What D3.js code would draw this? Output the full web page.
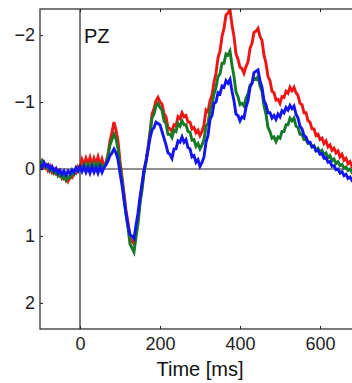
<!DOCTYPE html>
<html>
<head>
<meta charset="utf-8">
<script src="https://cdn.jsdelivr.net/npm/d3@7"></script>
<style>
  body { margin: 0; background: #fff; }
  svg { display: block; font-family: "Liberation Sans", Arial, Helvetica, sans-serif; }
  .axis text { font-size: 18px; fill: #222; }
</style>
</head>
<body>
<svg id="chart" width="352" height="383"></svg>
<script>
// ERP at electrode PZ, three conditions, samples every 5 ms from -100 to 700 ms
var times = d3.range(-100, 701, 5);

var redVals = [
  -0.08, -0.12, -0.03, -0.06, 0.02, -0.04, 0.05, 0.01, 0.07, 0.03,
  0.10, 0.06, 0.14, 0.10, 0.18, 0.12, 0.13, 0.04, 0.06, -0.04,
  -0.02, -0.14, -0.06, -0.16, -0.08, -0.17, -0.06, -0.16, -0.08, -0.18,
  -0.06, -0.15, -0.04, -0.10, -0.22, -0.42, -0.55, -0.70, -0.58, -0.42,
  -0.12, 0.12, 0.36, 0.62, 0.80, 1.02, 1.08, 1.12, 0.93, 0.76,
  0.48, 0.26, 0.03, -0.12, -0.32, -0.55, -0.82, -0.90, -1.02, -1.07,
  -1.00, -0.97, -0.83, -0.78, -0.62, -0.60, -0.56, -0.66, -0.64, -0.78,
  -0.75, -0.84, -0.78, -0.80, -0.70, -0.70, -0.60, -0.62, -0.54, -0.58,
  -0.50, -0.56, -0.66, -0.88, -0.85, -1.02, -1.10, -1.30, -1.43, -1.66,
  -1.76, -1.98, -2.10, -2.30, -2.33, -2.38, -2.15, -1.98, -1.72, -1.64,
  -1.52, -1.50, -1.43, -1.53, -1.60, -1.80, -1.88, -2.04, -2.06, -2.10,
  -1.98, -1.92, -1.70, -1.58, -1.38, -1.32, -1.16, -1.14, -1.03, -1.04,
  -0.98, -1.08, -1.07, -1.16, -1.13, -1.22, -1.17, -1.22, -1.14, -1.10,
  -0.98, -0.96, -0.84, -0.84, -0.72, -0.70, -0.60, -0.60, -0.50, -0.52,
  -0.44, -0.46, -0.38, -0.42, -0.33, -0.36, -0.28, -0.31, -0.24, -0.27,
  -0.18, -0.22, -0.13, -0.16, -0.08, -0.11, -0.04, -0.06, 0.01, -0.01,
  0.05
];

var greenVals = [
  -0.04, -0.12, -0.08, -0.02, -0.06, 0.03, -0.01, 0.06, 0.02, 0.10,
  0.06, 0.14, 0.10, 0.17, 0.11, 0.13, 0.05, 0.08, 0.00, 0.03,
  -0.04, 0.00, -0.07, -0.01, -0.08, -0.02, -0.08, -0.02, -0.09, -0.03,
  -0.08, -0.02, -0.06, -0.08, -0.20, -0.36, -0.44, -0.52, -0.45, -0.30,
  -0.04, 0.16, 0.42, 0.68, 0.88, 1.12, 1.18, 1.24, 1.02, 0.82,
  0.52, 0.32, 0.06, -0.10, -0.30, -0.52, -0.76, -0.82, -0.94, -0.98,
  -0.92, -0.88, -0.72, -0.68, -0.52, -0.52, -0.47, -0.58, -0.56, -0.68,
  -0.64, -0.72, -0.66, -0.66, -0.56, -0.55, -0.43, -0.44, -0.34, -0.38,
  -0.30, -0.36, -0.44, -0.64, -0.68, -0.88, -0.96, -1.12, -1.22, -1.38,
  -1.42, -1.58, -1.58, -1.72, -1.70, -1.76, -1.55, -1.38, -1.15, -1.08,
  -0.96, -0.98, -0.94, -1.06, -1.12, -1.25, -1.28, -1.36, -1.34, -1.38,
  -1.24, -1.16, -0.94, -0.82, -0.62, -0.56, -0.46, -0.48, -0.41, -0.48,
  -0.46, -0.56, -0.56, -0.66, -0.66, -0.76, -0.72, -0.76, -0.64, -0.62,
  -0.52, -0.52, -0.44, -0.44, -0.38, -0.39, -0.33, -0.35, -0.28, -0.31,
  -0.25, -0.28, -0.21, -0.24, -0.17, -0.20, -0.12, -0.15, -0.08, -0.11,
  -0.05, -0.07, -0.01, -0.03, 0.02, 0.00, 0.05, 0.03, 0.08, 0.06,
  0.11
];

var blueVals = [
  -0.06, -0.02, -0.10, -0.04, -0.06, 0.00, -0.04, 0.03, -0.01, 0.06,
  0.02, 0.08, 0.03, 0.09, 0.03, 0.07, 0.01, 0.05, -0.02, 0.03,
  -0.03, 0.04, -0.03, 0.05, -0.02, 0.06, -0.03, 0.05, -0.02, 0.06,
  -0.03, 0.05, -0.02, -0.06, -0.12, -0.20, -0.24, -0.30, -0.24, -0.14,
  0.06, 0.24, 0.46, 0.66, 0.84, 0.98, 1.00, 1.04, 0.84, 0.66,
  0.42, 0.22, 0.02, -0.12, -0.28, -0.46, -0.58, -0.62, -0.70, -0.68,
  -0.66, -0.56, -0.46, -0.36, -0.24, -0.22, -0.16, -0.30, -0.30, -0.42,
  -0.40, -0.48, -0.40, -0.44, -0.32, -0.30, -0.18, -0.20, -0.10, -0.14,
  -0.04, -0.10, -0.18, -0.40, -0.50, -0.74, -0.80, -0.98, -1.00, -1.14,
  -1.12, -1.24, -1.22, -1.32, -1.28, -1.34, -1.16, -1.02, -0.82, -0.80,
  -0.72, -0.78, -0.76, -0.92, -1.02, -1.22, -1.28, -1.44, -1.46, -1.48,
  -1.32, -1.22, -1.02, -0.96, -0.84, -0.84, -0.76, -0.80, -0.74, -0.82,
  -0.78, -0.87, -0.84, -0.92, -0.88, -0.95, -0.90, -0.94, -0.82, -0.76,
  -0.64, -0.60, -0.50, -0.48, -0.40, -0.40, -0.33, -0.34, -0.27, -0.28,
  -0.22, -0.23, -0.16, -0.17, -0.10, -0.11, -0.04, -0.05, 0.01, 0.00,
  0.06, 0.04, 0.10, 0.08, 0.14, 0.12, 0.17, 0.15, 0.20, 0.18,
  0.22
];

var series = [
  {name: 'red', color: '#f01414', values: redVals},
  {name: 'green', color: '#157a26', values: greenVals},
  {name: 'blue', color: '#1414f0', values: blueVals}
];

var xTicks = [0, 200, 400, 600];
var yTicks = [-2, -1, 0, 1, 2];
var channelName = 'PZ';

var svg = d3.select('#chart');
var box = {left: 40, top: 9, right: 360, bottom: 329};

var x = d3.scaleLinear().domain([-100, 700]).range([box.left, box.right]);
// negative is plotted up, as usual for ERPs
var y = d3.scaleLinear().domain([-2.39, 2.39]).range([box.top, box.bottom]);

svg.append('defs').append('clipPath').attr('id', 'plotclip')
  .append('rect')
  .attr('x', box.left).attr('y', box.top)
  .attr('width', box.right - box.left).attr('height', box.bottom - box.top);

// reference lines at 0 ms and 0 uV
svg.append('line')
  .attr('x1', box.left).attr('x2', box.right)
  .attr('y1', y(0)).attr('y2', y(0))
  .attr('stroke', '#222').attr('stroke-width', 1.2);
svg.append('line')
  .attr('x1', x(0)).attr('x2', x(0))
  .attr('y1', box.top).attr('y2', box.bottom)
  .attr('stroke', '#222').attr('stroke-width', 1.2);

var line = d3.line()
  .x((d, i) => x(times[i]))
  .y(d => y(d));

svg.append('g').attr('clip-path', 'url(#plotclip)')
  .selectAll('path')
  .data(series)
  .join('path')
  .attr('fill', 'none')
  .attr('stroke', d => d.color)
  .attr('stroke-width', 2.9)
  .attr('stroke-linejoin', 'miter')
  .attr('d', d => line(d.values));

// frame
svg.append('rect')
  .attr('x', box.left).attr('y', box.top)
  .attr('width', box.right - box.left).attr('height', box.bottom - box.top)
  .attr('fill', 'none').attr('stroke', '#222').attr('stroke-width', 1.2);

var fmt = d => d < 0 ? '\u2212' + Math.abs(d) : '' + d;

var yAxis = d3.axisLeft(y).tickValues(yTicks).tickFormat(fmt)
  .tickSizeInner(-3).tickSizeOuter(0).tickPadding(5);
var yg = svg.append('g').attr('class', 'axis')
  .attr('transform', `translate(${box.left},0)`)
  .call(yAxis);

var xAxis = d3.axisBottom(x).tickValues(xTicks).tickFormat(fmt)
  .tickSizeInner(-3).tickSizeOuter(0).tickPadding(8);
var xg = svg.append('g').attr('class', 'axis')
  .attr('transform', `translate(0,${box.bottom})`)
  .call(xAxis);

var xTop = d3.axisTop(x).tickValues(xTicks).tickFormat('')
  .tickSizeInner(-3).tickSizeOuter(0);
var xtg = svg.append('g').attr('class', 'axis')
  .attr('transform', `translate(0,${box.top})`)
  .call(xTop);

[yg, xg, xtg].forEach(g => {
  g.select('.domain').remove();
  g.selectAll('.tick line').attr('stroke', '#222');
  g.selectAll('text').attr('font-family', null);
});

svg.append('text')
  .attr('x', x(0) + 4).attr('y', 43)
  .attr('font-size', 20).attr('fill', '#111')
  .text(channelName);

svg.append('text')
  .attr('x', 200).attr('y', 376)
  .attr('text-anchor', 'middle')
  .attr('font-size', 20).attr('fill', '#111')
  .text('Time [ms]');
</script>
</body>
</html>
